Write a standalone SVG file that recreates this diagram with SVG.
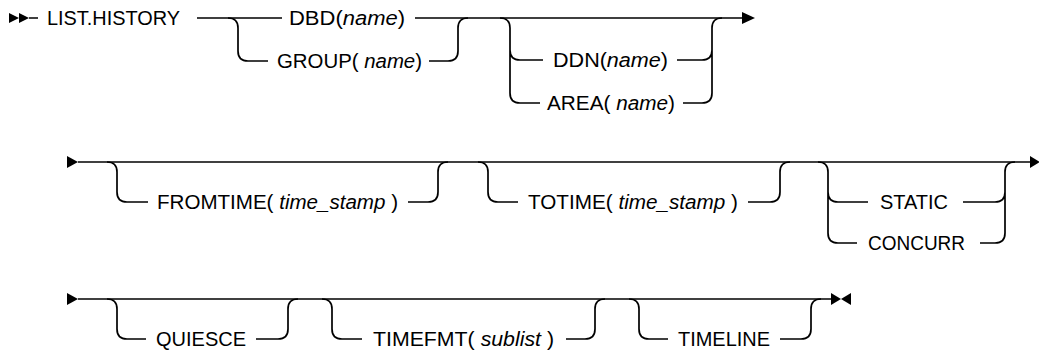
<svg xmlns="http://www.w3.org/2000/svg" width="1039" height="352" viewBox="0 0 1039 352">
<style>
text{font-family:"Liberation Sans",Arial,sans-serif;font-size:20px;fill:#000}
.i{font-style:italic}
.c{fill:none;stroke:#000;stroke-width:1.7}
.a{fill:#000;stroke:none}
</style>
<rect width="1039" height="352" fill="#fff"/>
<g id="connectors">
<path class="c" d="M29,18H38 M197,18H282 M415,18H742"/>
<path class="c" d="M228,18Q238,18 238,28V51Q238,61 248,61H268"/>
<path class="c" d="M429,61H448Q458,61 458,51V28Q458,18 468,18"/>
<path class="c" d="M500,18Q510,18 510,28V93Q510,103 520,103H540 M510,50Q510,60 520,60H543"/>
<path class="c" d="M677,60H702Q712,60 712,50 M683,103H702Q712,103 712,93V28Q712,18 722,18"/>
<path class="c" d="M78,162H1030"/>
<path class="c" d="M107,162Q117,162 117,172V192Q117,202 127,202H148 M408,202H428Q438,202 438,192V172Q438,162 448,162"/>
<path class="c" d="M478,162Q488,162 488,172V192Q488,202 498,202H518 M748,202H770Q780,202 780,192V172Q780,162 790,162"/>
<path class="c" d="M818,162Q828,162 828,172V233Q828,243 838,243H857 M828,192Q828,202 838,202H868"/>
<path class="c" d="M963,202H995Q1005,202 1005,192 M980,243H995Q1005,243 1005,233V172Q1005,162 1015,162"/>
<path class="c" d="M78,299H832"/>
<path class="c" d="M107,299Q117,299 117,309V329Q117,339 127,339H146 M256,339H278Q288,339 288,329V309Q288,299 298,299"/>
<path class="c" d="M322,299Q332,299 332,309V329Q332,339 342,339H362 M566,339H585Q595,339 595,329V309Q595,299 605,299"/>
<path class="c" d="M629,299Q639,299 639,309V329Q639,339 649,339H668 M780,339H801Q811,339 811,329V309Q811,299 821,299"/>
<polygon class="a" points="9,13 19,18 9,23"/>
<polygon class="a" points="19,13 29,18 19,23"/>
<polygon class="a" points="742,12 755,18 742,24"/>
<polygon class="a" points="67,156 78,162 67,168"/>
<polygon class="a" points="1030,156 1040,162 1030,168"/>
<polygon class="a" points="67,293 78,299 67,305"/>
<polygon class="a" points="831,293 841,299 831,305"/>
<polygon class="a" points="851,293 841,299 851,305"/>
</g>
<g id="list-history"><text x="47" y="25" textLength="133" lengthAdjust="spacingAndGlyphs">LIST.HISTORY</text></g>
<g id="dbd"><text x="289" y="25" textLength="116" lengthAdjust="spacingAndGlyphs">DBD(<tspan class="i">name</tspan>)</text></g>
<g id="group"><text x="277" y="68" textLength="145" lengthAdjust="spacingAndGlyphs">GROUP( <tspan class="i">name</tspan>)</text></g>
<g id="ddn"><text x="553" y="67" textLength="115" lengthAdjust="spacingAndGlyphs">DDN(<tspan class="i">name</tspan>)</text></g>
<g id="area"><text x="547" y="110" textLength="128" lengthAdjust="spacingAndGlyphs">AREA( <tspan class="i">name</tspan>)</text></g>
<g id="fromtime"><text x="157" y="209" textLength="241" lengthAdjust="spacingAndGlyphs">FROMTIME( <tspan class="i">time_stamp</tspan> )</text></g>
<g id="totime"><text x="528" y="209" textLength="210" lengthAdjust="spacingAndGlyphs">TOTIME( <tspan class="i">time_stamp</tspan> )</text></g>
<g id="static"><text x="880" y="209" textLength="68" lengthAdjust="spacingAndGlyphs">STATIC</text></g>
<g id="concurr"><text x="868" y="250" textLength="97" lengthAdjust="spacingAndGlyphs">CONCURR</text></g>
<g id="quiesce"><text x="156" y="346" textLength="90" lengthAdjust="spacingAndGlyphs">QUIESCE</text></g>
<g id="timefmt"><text x="373" y="346" textLength="181" lengthAdjust="spacingAndGlyphs">TIMEFMT( <tspan class="i">sublist</tspan> )</text></g>
<g id="timeline"><text x="678" y="346" textLength="92" lengthAdjust="spacingAndGlyphs">TIMELINE</text></g>
</svg>
